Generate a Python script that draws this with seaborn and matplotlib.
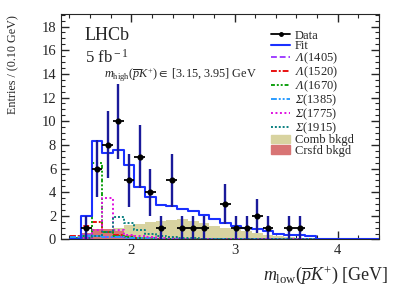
import numpy as np
import pandas as pd
import seaborn as sns
import matplotlib
matplotlib.use("Agg")
import matplotlib.pyplot as plt
from matplotlib.lines import Line2D
from matplotlib.patches import Patch
from matplotlib.ticker import MultipleLocator

# 29 bins of m_low(pbar K+) [GeV]
edges = np.linspace(1.41, 4.41, 30)
centers = 0.5 * (edges[:-1] + edges[1:])
bw = edges[1] - edges[0]
bins = edges.tolist()

data = [0, 1, 6, 8, 10, 5, 7, 4, 1, 5, 1, 1, 1, 0, 3, 1, 1, 2, 1, 0,
        1, 1, 0, 0, 0, 0, 0, 0, 0]
fit = [0.05, 2.0, 8.3, 7.3, 7.55, 6.3, 4.4, 3.6, 2.95, 2.8, 2.6, 2.45, 2.1, 1.7, 1.4,
       1.17, 0.98, 0.85, 0.7, 0.45, 0.42, 0.4, 0.28, 0.08, 0.05, 0.04, 0.03, 0.02, 0.02]
comb = [0.1, 0.3, 0.55, 0.8, 1.0, 1.2, 1.35, 1.45, 1.55, 1.65, 1.7, 1.6, 1.4, 1.1, 0.95,
        0.85, 0.7, 0.55, 0.4, 0.3, 0.22, 0.15, 0.1, 0.05, 0.03, 0.02, 0.01, 0.01, 0.01]
crsfd = [0.2, 0.55, 0.85, 0.85, 0.7, 0.4, 0.25, 0.12, 0.06, 0.04, 0.03, 0.02, 0.02, 0.01, 0.01,
         0.01, 0.01, 0.01, 0.01, 0.01, 0.01, 0.01, 0.01, 0.01, 0.01, 0.01, 0.01, 0.01, 0.01]
lam1405 = [0.3, 0.35, 0.3, 0.25, 0.2, 0.15, 0.12, 0.1, 0.08, 0.06, 0.05, 0.04, 0.04, 0.03, 0.03,
           0.03, 0.02, 0.02, 0.02, 0.02, 0.02, 0.02, 0.02, 0.02, 0.02, 0.02, 0.02, 0.02, 0.02]
lam1520 = [0.3, 1.1, 1.45, 0.6, 0.35, 0.25, 0.15, 0.1, 0.08, 0.06, 0.05, 0.04, 0.04, 0.03, 0.03,
           0.03, 0.03, 0.02, 0.02, 0.02, 0.02, 0.02, 0.02, 0.02, 0.02, 0.02, 0.02, 0.02, 0.02]
lam1670 = [0.1, 0.3, 6.5, 0.6, 0.3, 0.2, 0.15, 0.1, 0.08, 0.06, 0.05, 0.04, 0.04, 0.03, 0.03,
           0.03, 0.03, 0.03, 0.03, 0.03, 0.03, 0.03, 0.03, 0.03, 0.03, 0.03, 0.03, 0.03, 0.03]
sig1385 = [0.2, 0.3, 0.3, 0.25, 0.2, 0.15, 0.12, 0.1, 0.08, 0.06, 0.05, 0.05, 0.04, 0.04, 0.04,
           0.04, 0.04, 0.04, 0.04, 0.04, 0.04, 0.04, 0.04, 0.04, 0.04, 0.04, 0.04, 0.04, 0.04]
sig1775 = [0.05, 0.1, 0.8, 3.5, 0.8, 0.4, 0.3, 0.2, 0.15, 0.1, 0.08, 0.06, 0.05, 0.05, 0.05,
           0.05, 0.05, 0.05, 0.05, 0.05, 0.05, 0.05, 0.05, 0.05, 0.05, 0.05, 0.05, 0.05, 0.05]
sig1915 = [0.05, 0.1, 0.3, 0.6, 1.9, 1.4, 0.8, 0.5, 0.3, 0.2, 0.15, 0.1, 0.08, 0.07, 0.06,
           0.06, 0.06, 0.06, 0.06, 0.06, 0.06, 0.06, 0.06, 0.06, 0.06, 0.06, 0.06, 0.06, 0.06]

sns.set_style("ticks")
plt.rcParams["font.family"] = ["Liberation Serif", "DejaVu Serif"]
plt.rcParams.update({
    "mathtext.fontset": "custom",
    "mathtext.rm": "Liberation Serif",
    "mathtext.it": "Liberation Serif:italic",
    "mathtext.bf": "Liberation Serif:bold",
    "mathtext.sf": "Liberation Serif:italic",
    "mathtext.fallback": "stix",
})

fig = plt.figure(figsize=(3.99, 2.86), dpi=100)
ax = fig.add_axes([0.153, 0.1626, 0.797, 0.790])

df = pd.DataFrame({"m": centers, "data": data, "fit": fit, "comb": comb, "crsfd": crsfd,
                   "l1405": lam1405, "l1520": lam1520, "l1670": lam1670,
                   "s1385": sig1385, "s1775": sig1775, "s1915": sig1915})

sns.histplot(df, x="m", weights="comb", bins=bins, element="step", fill=True,
             color="#d8d3a0", alpha=1, linewidth=0, ax=ax)
sns.histplot(df, x="m", weights="crsfd", bins=bins, element="step", fill=True,
             color="#d87474", alpha=1, linewidth=0, ax=ax)

comps = [
    ("l1405", "#a040ff", (0, (3, 1.5))),
    ("l1520", "#e81010", (0, (3, 1, 1, 1))),
    ("l1670", "#10a010", (0, (2, 1, 1, 1, 1, 1))),
    ("s1385", "#2a9cff", (0, (3, 1, 1, 1, 1, 1))),
    ("s1775", "#e010e0", (0, (1, 1.3))),
    ("s1915", "#0a8080", (0, (1, 1))),
]
for col, c, ls in comps:
    sns.histplot(df, x="m", weights=col, bins=bins, element="step", fill=False,
                 color=c, linestyle=ls, linewidth=1.4, ax=ax)

sns.histplot(df, x="m", weights="fit", bins=bins, element="step", fill=False,
             color="#1a30ff", linewidth=1.5, ax=ax)

d = df[df["data"] > 0]
ax.errorbar(d["m"], d["data"], yerr=np.sqrt(d["data"]), fmt="none",
            ecolor="#1a1a9a", elinewidth=1.7, capsize=0, zorder=5)
ax.errorbar(d["m"], d["data"], xerr=bw / 2, fmt="o", color="black", ms=3.4,
            elinewidth=1.3, capsize=0, zorder=6)

ax.set_xlim(1.32, 4.40)
ax.set_ylim(0, 19.1)
ax.set_xticks([2, 3, 4])
ax.set_yticks(np.arange(0, 19, 2))
ax.xaxis.set_minor_locator(MultipleLocator(0.2))
ax.yaxis.set_minor_locator(MultipleLocator(0.5))
ax.tick_params(axis="both", which="major", direction="in", top=True, right=True,
               length=6, width=1, labelsize=10.5)
ax.tick_params(axis="both", which="minor", direction="in", top=True, right=True,
               length=3, width=0.8)

ax.set_xlabel(r"$m_{\rm low}(\overline{p}K^{+})$ [GeV]", fontsize=13, ha="right", va="center")
ax.xaxis.set_label_coords(1.028, -0.157)
ax.set_ylabel("Entries / (0.10 GeV)", fontsize=8.7, ha="right")
ax.yaxis.set_label_coords(-0.13, 0.995)

ax.text(0.075, 0.905, "LHCb", transform=ax.transAxes, fontsize=13, va="center")
ax.text(0.075, 0.805, r"5 fb$^{\rm -1}$", transform=ax.transAxes, fontsize=12, va="center")
ax.text(0.135, 0.725, r"$m_{\rm high}(\overline{p}K^{+}) \in$ [3.15, 3.95] GeV",
        transform=ax.transAxes, fontsize=8.8, va="center")

handles = [
    Line2D([], [], color="black", marker="o", ms=2.5, lw=1.3),
    Line2D([], [], color="#1a30ff", lw=1.5),
]
labels = ["Data", "Fit"]
names = [r"$\mathsf{\Lambda}$(1405)", r"$\mathsf{\Lambda}$(1520)", r"$\mathsf{\Lambda}$(1670)",
         r"$\mathsf{\Sigma}$(1385)", r"$\mathsf{\Sigma}$(1775)", r"$\mathsf{\Sigma}$(1915)"]
for (col, c, ls), n in zip(comps, names):
    handles.append(Line2D([], [], color=c, linestyle=ls, lw=1.4))
    labels.append(n)
handles += [Patch(color="#d8d3a0"), Patch(color="#d87474")]
labels += ["Comb bkgd", "Crsfd bkgd"]
ax.legend(handles, labels, loc="upper left", bbox_to_anchor=(0.645, 0.95), frameon=False,
          fontsize=9, handlelength=1.5, handletextpad=0.4, labelspacing=-0.12,
          borderaxespad=0)

fig.savefig("out.png", dpi=100)
